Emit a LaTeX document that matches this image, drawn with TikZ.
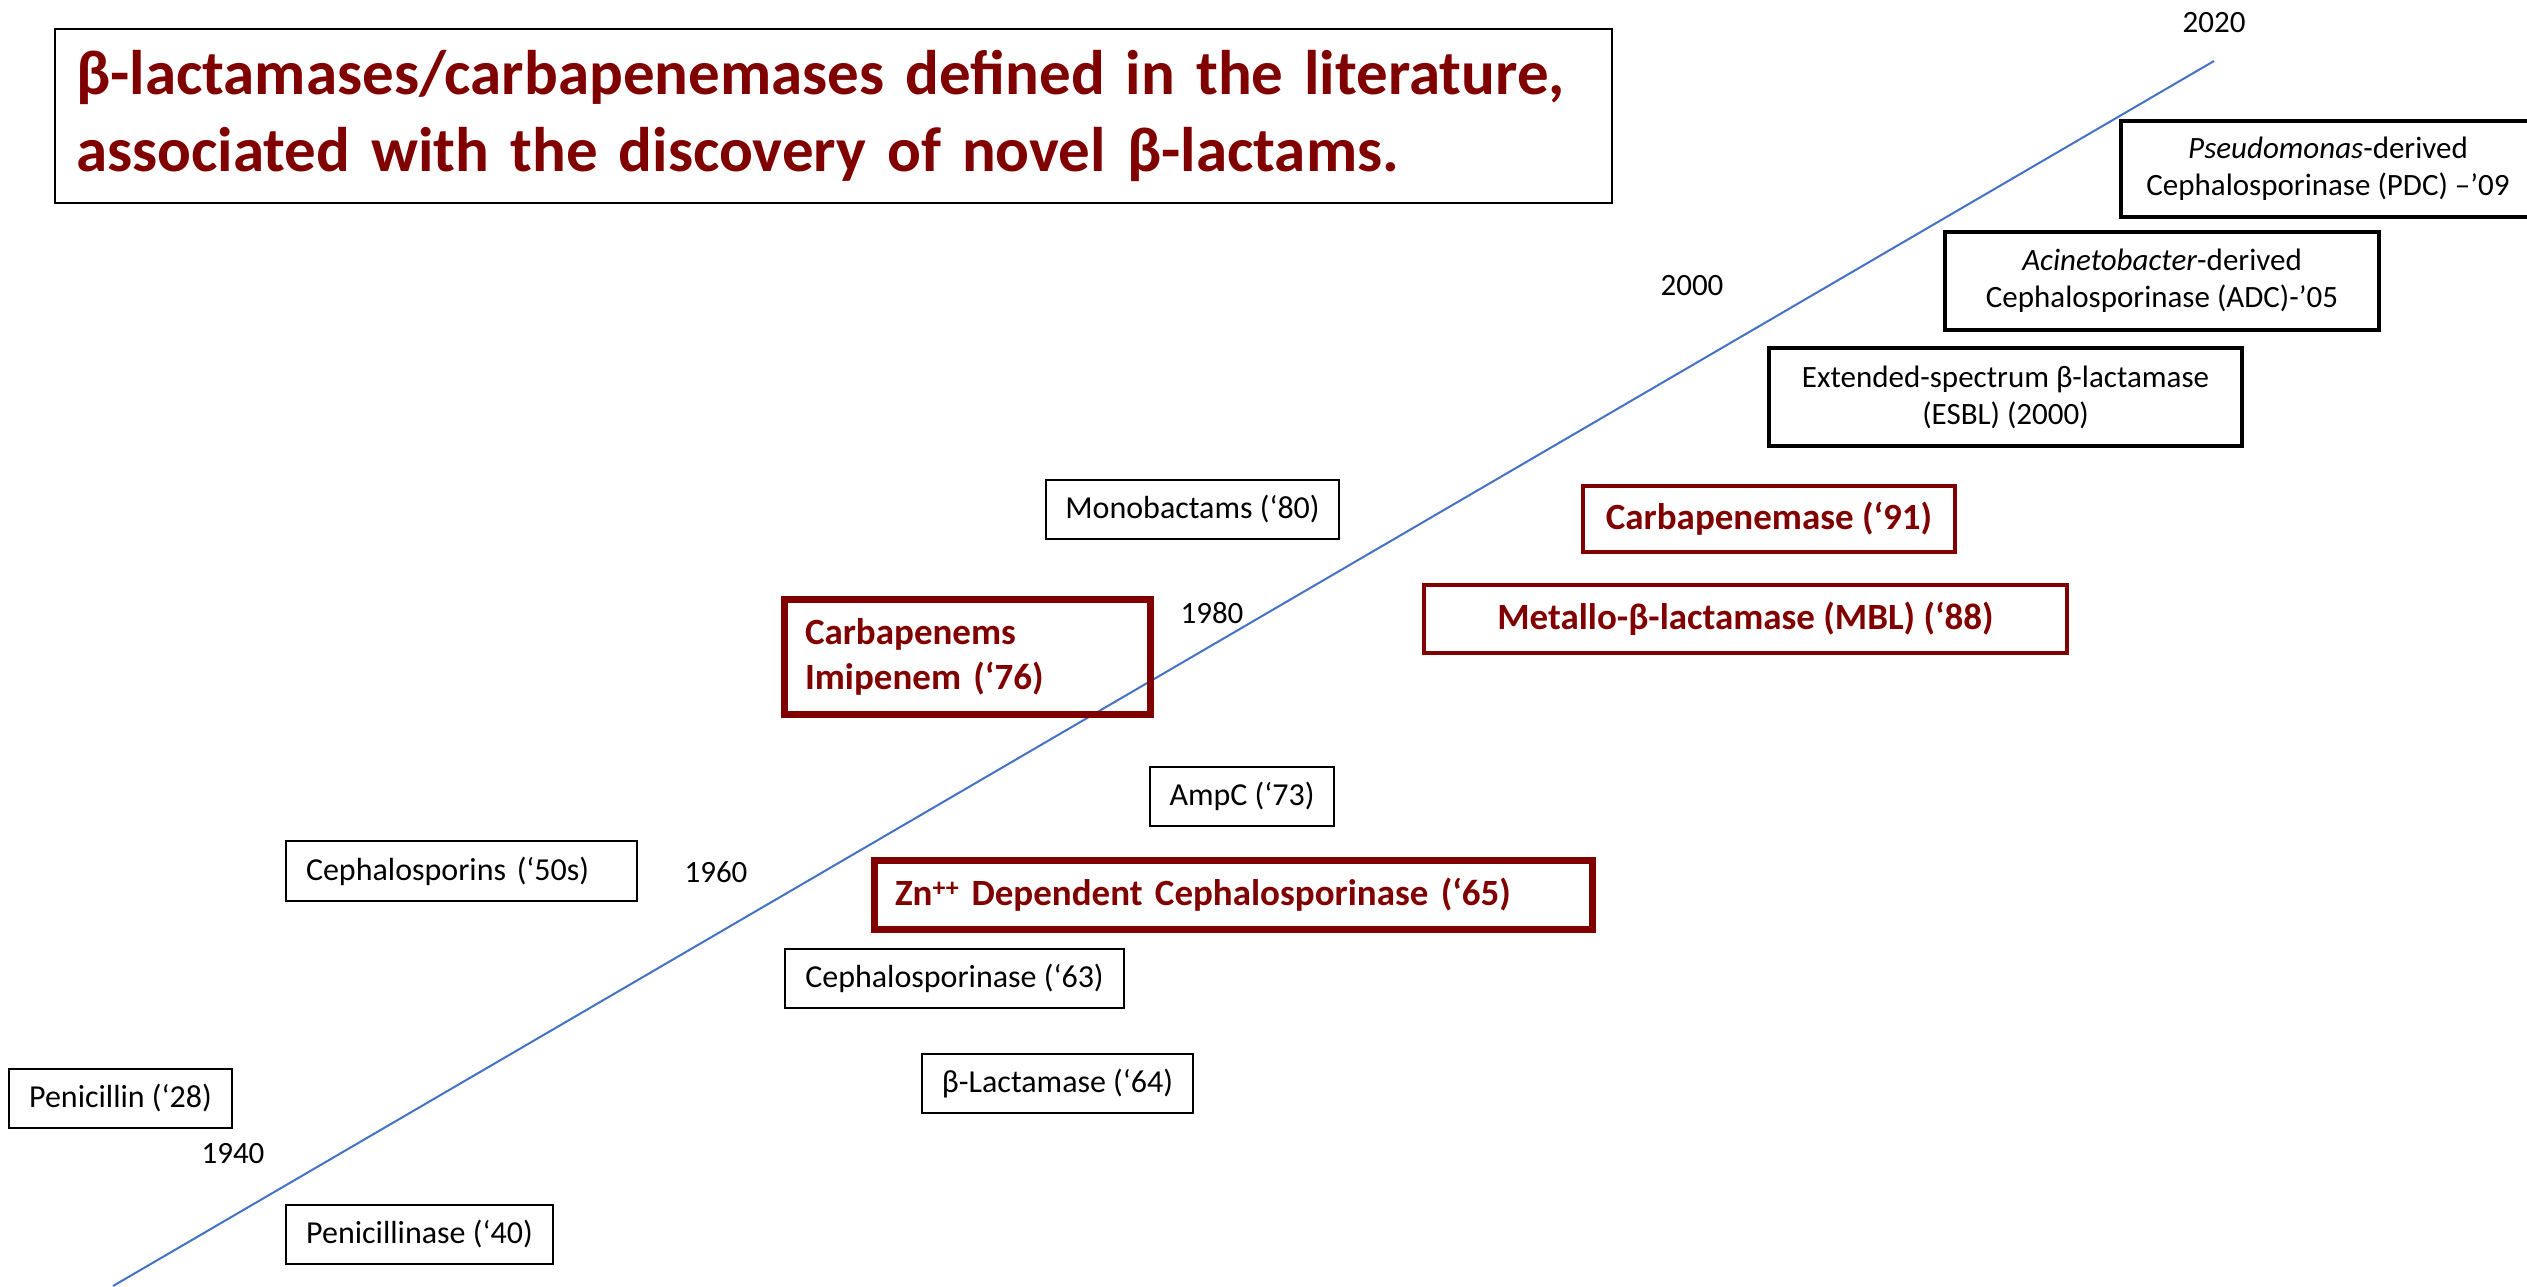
\documentclass[tikz,border=0pt]{standalone}
\usepackage{fontspec}
\setmainfont{Carlito}
\definecolor{dred}{HTML}{800000}
\definecolor{lineblue}{HTML}{4472C4}
\begin{document}
\begin{tikzpicture}[x=1pt,y=-1pt,
  every node/.style={inner sep=0pt, outer sep=0pt},
  titlebox/.style={draw=black, line width=2pt, text=dred, align=left,
    font=\fontsize{63}{77}\selectfont\bfseries},
  thinbox/.style={draw=black, line width=2pt, align=center,
    font=\fontsize{32}{39}\selectfont},
  thickbox/.style={draw=black, line width=4pt, align=center,
    font=\fontsize{31}{37}\selectfont},
  redbox/.style={draw=dred, line width=3.5pt, text=dred, align=center,
    font=\fontsize{37}{45}\selectfont\bfseries},
  redthick/.style={redbox, line width=7pt},
  year/.style={anchor=base, font=\fontsize{31}{37}\selectfont},
  timeline/.style={draw=lineblue, line width=2pt}
]
\useasboundingbox (0,0) rectangle (2527,1287);

% timeline
\coordinate (lstart) at (113,1286);
\coordinate (lend) at (2214,61);
\draw[timeline] (lstart) -- (lend);

% title
\node[titlebox, minimum width=1557pt, minimum height=174pt, text width=1515pt, inner xsep=21pt]
  (title) at (833.5,116) {β-lactamases/carbapenemases defined in the literature,\\associated with the discovery of novel β-lactams.};

% years
\node[year] (y2020) at (2214,33) {2020};
\node[year] (y2000) at (1692,295) {2000};
\node[year] (y1980) at (1212,623) {1980};
\node[year] (y1960) at (716,882) {1960};
\node[year] (y1940) at (233,1163) {1940};

% black multi-line boxes
\node[thickbox, minimum width=414pt, minimum height=96pt] (pdc) at (2328,169)
  {\textit{Pseudomonas}-derived\\Cephalosporinase (PDC) –’09};
\node[thickbox, minimum width=434pt, minimum height=98pt] (adc) at (2162,281)
  {\textit{Acinetobacter}-derived\\Cephalosporinase (ADC)-’05};
\node[thickbox, minimum width=473pt, minimum height=98pt] (esbl) at (2005.5,397)
  {Extended-spectrum β-lactamase\\(ESBL) (2000)};

% red boxes
\node[redbox, minimum width=372pt, minimum height=66pt] (carbase) at (1769,519)
  {Carbapenemase (‘91)};
\node[redbox, minimum width=643pt, minimum height=68pt] (mbl) at (1745.5,619)
  {Metallo-β-lactamase (MBL) (‘88)};
\node[redthick, minimum width=366pt, minimum height=115pt, text width=324pt, inner xsep=21pt, align=left]
  (carbem) at (967,656.5) {Carbapenems\\Imipenem (‘76)};
\node[redthick, minimum width=718pt, minimum height=69pt, text width=676pt, inner xsep=21pt, align=left]
  (zn) at (1233,894.5) {Zn\textsuperscript{++} Dependent Cephalosporinase (‘65)};

% black single-line boxes
\node[thinbox, minimum width=293pt, minimum height=59pt] (mono) at (1192.5,509.5) {Monobactams (‘80)};
\node[thinbox, minimum width=184pt, minimum height=59pt] (ampc) at (1242,796.5) {AmpC (‘73)};
\node[thinbox, minimum width=351pt, minimum height=60pt, text width=311pt, inner xsep=20pt, align=left]
  (cephs) at (461.5,871) {Cephalosporins (‘50s)};
\node[thinbox, minimum width=339pt, minimum height=59pt] (ceph63) at (954.5,978.5) {Cephalosporinase (‘63)};
\node[thinbox, minimum width=271pt, minimum height=59pt] (blac) at (1057.5,1083.5) {β-Lactamase (‘64)};
\node[thinbox, minimum width=223pt, minimum height=59pt] (pen) at (120.5,1098.5) {Penicillin (‘28)};
\node[thinbox, minimum width=267pt, minimum height=59pt] (penase) at (419.5,1234.5) {Penicillinase (‘40)};
\end{tikzpicture}
\end{document}
